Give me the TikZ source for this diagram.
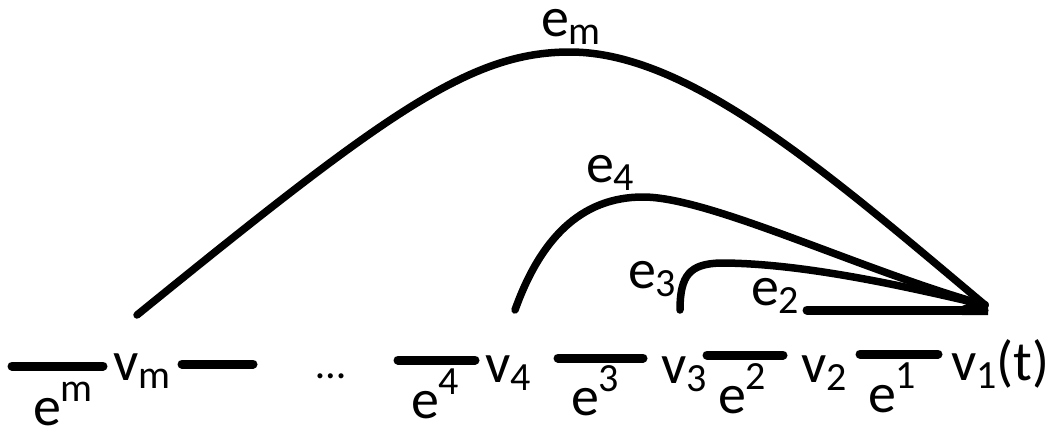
\documentclass[tikz,border=0pt]{standalone}
\usepackage{fontspec}
\setmainfont{Carlito}
\newcommand{\lbl}{\fontsize{56}{60}\selectfont}
\newcommand{\sbx}[1]{\raisebox{-0.16em}{\fontsize{40}{40}\selectfont #1}}
\newcommand{\spx}[1]{\raisebox{0.42em}{\fontsize{40}{40}\selectfont #1}}
\begin{document}
\begin{tikzpicture}[x=1pt,y=-1pt,
  txt/.style={anchor=base west,inner sep=0pt,outer sep=0pt,font=\lbl},
  bar/.style={line width=9pt,line cap=round},
  arc/.style={line width=7.5pt,line cap=round}]
\useasboundingbox (0,0) rectangle (1062,431);
% bottom labels
\node[txt] (em) at (33,425) {e\spx{m}};
\node[txt] (vm) at (113,380) {v\sbx{m}};
\node[txt] (dots) at (316,378) {\fontsize{42}{42}\selectfont …};
\node[txt] (e4) at (411,418) {e\spx{4}};
\node[txt] (v4) at (485,382) {v\sbx{4}};
\node[txt] (e3) at (571,415) {e\spx{3}};
\node[txt] (v3) at (661,383) {v\sbx{3}};
\node[txt] (e2) at (718,413) {e\spx{2}};
\node[txt] (v2) at (801,382) {v\sbx{2}};
\node[txt] (e1) at (868,412) {e\spx{1}};
\node[txt] (v1) at (951,380) {v\sbx{1}(t)};
% curve labels
\node[txt,text height=0.5em] (lm) at (541,36) {e\sbx{m}};
\node[txt] (l4) at (586,182) {e\sbx{4}};
\node[txt] (l3) at (628,288) {e\sbx{3}};
\node[txt] (l2) at (751,305) {e\sbx{2}};
% path coordinates
\coordinate (b1a) at (12,366);  \coordinate (b1b) at (103,366);
\coordinate (b2a) at (182,364); \coordinate (b2b) at (253,364);
\coordinate (b3a) at (398,360); \coordinate (b3b) at (475,360);
\coordinate (b4a) at (558,358); \coordinate (b4b) at (643,358);
\coordinate (b5a) at (707,355); \coordinate (b5b) at (783,355);
\coordinate (b6a) at (860,354); \coordinate (b6b) at (938,354);
\coordinate (t) at (985,305);
\coordinate (sm) at (137,315);
\coordinate (s4) at (515,310);
\coordinate (s3) at (680,310);
\coordinate (s2) at (807,310);
% bars
\foreach \i in {1,...,6} \draw[bar] (b\i a) -- (b\i b);
% arcs
\draw[arc] (sm) .. controls (387,112) and (470,52) .. (570,52)
                .. controls (690,52) and (830,175) .. (t);
\draw[arc] (s4) .. controls (540,240) and (580,197) .. (643,197)
                .. controls (710,197) and (860,270) .. (t);
\draw[arc] (s3) .. controls (680,275) and (690,264) .. (720,263)
                .. controls (800,263) and (900,285) .. (t);
\draw[line width=9pt,line cap=round] (s2) -- (984,310);
\fill (962,306) -- (976,300) -- (988,302) -- (988,315) -- (962,315) -- cycle;
\end{tikzpicture}
\end{document}
